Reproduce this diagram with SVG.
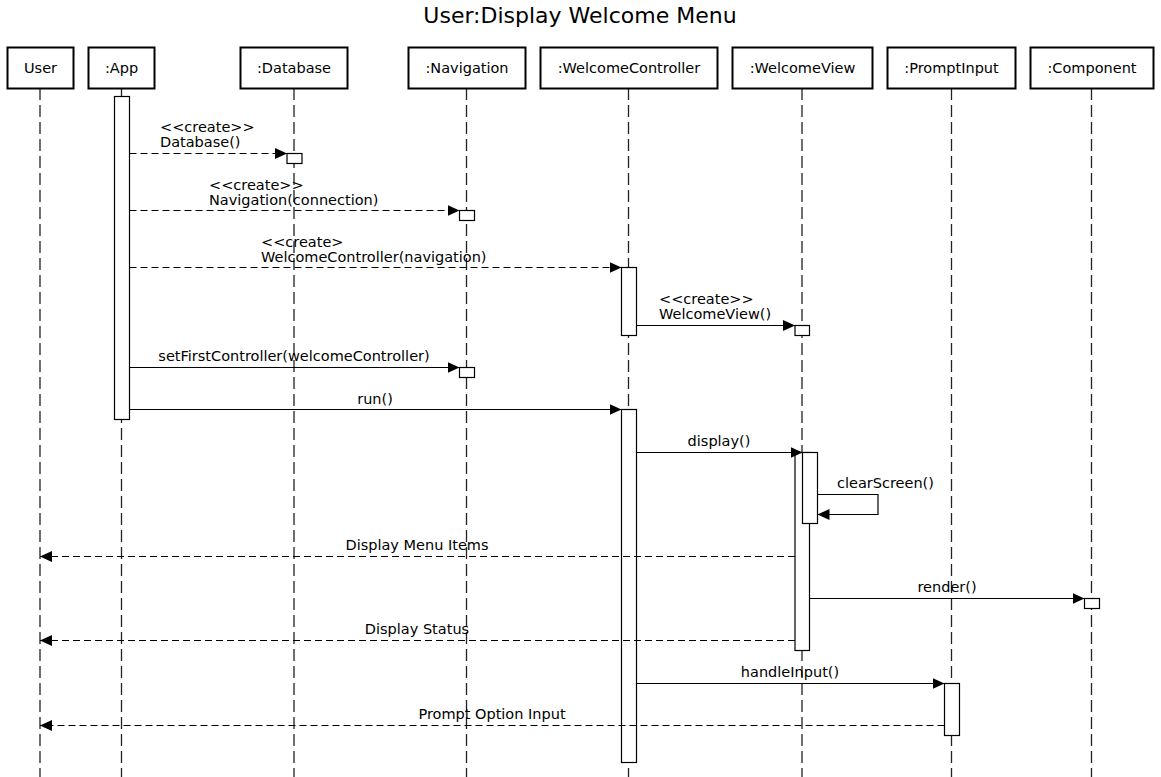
<svg xmlns="http://www.w3.org/2000/svg" width="1161" height="777" viewBox="0 0 1161 777">
<style>
text{font-family:"DejaVu Sans",sans-serif;font-size:14.5px;fill:#000}
.title{font-size:22px}
.head rect{fill:#fff;stroke:#000;stroke-width:2}
.life{stroke:#222;stroke-width:1.3;stroke-dasharray:12,5;fill:none}
.act{fill:#fff;stroke:#000;stroke-width:1.2}
.msg{stroke:#000;stroke-width:1.2;fill:none;marker-end:url(#arr)}
.dash{stroke-dasharray:7,4}
.c{text-anchor:middle}
</style>
<defs>
<marker id="arr" markerUnits="userSpaceOnUse" markerWidth="14" markerHeight="12" refX="12" refY="5.5" orient="auto">
<path d="M0,0 L12,5.5 L0,11 Z" fill="#000"/>
</marker>
</defs>
<rect width="1161" height="777" fill="#fff"/>
<text class="title c" x="580" y="23">User:Display Welcome Menu</text>

<g id="lifelines">
<line class="life" x1="40" y1="88" x2="40" y2="777"/>
<line class="life" x1="121.5" y1="88" x2="121.5" y2="777"/>
<line class="life" x1="294" y1="88" x2="294" y2="777"/>
<line class="life" x1="466.5" y1="88" x2="466.5" y2="777"/>
<line class="life" x1="628.5" y1="88" x2="628.5" y2="777"/>
<line class="life" x1="802" y1="88" x2="802" y2="777"/>
<line class="life" x1="951.5" y1="88" x2="951.5" y2="777"/>
<line class="life" x1="1091.5" y1="88" x2="1091.5" y2="777"/>
</g>

<g id="user" class="head"><rect x="7.5" y="47.5" width="66" height="41"/><text class="c" x="40.5" y="73">User</text></g>
<g id="app" class="head"><rect x="88.5" y="47.5" width="66" height="41"/><text class="c" x="121.5" y="73">:App</text>
<rect class="act" x="114.5" y="96.5" width="15" height="323" style="stroke-width:1.2"/></g>
<g id="database" class="head"><rect x="240.5" y="47.5" width="107" height="41"/><text class="c" x="294" y="73">:Database</text>
<rect class="act" x="287" y="153.5" width="15" height="10" style="stroke-width:1.2"/></g>
<g id="navigation" class="head"><rect x="408.5" y="47.5" width="117" height="41"/><text class="c" x="467" y="73">:Navigation</text>
<rect class="act" x="459.5" y="210.5" width="15" height="10" style="stroke-width:1.2"/>
<rect class="act" x="459.5" y="367.5" width="15" height="10" style="stroke-width:1.2"/></g>
<g id="welcomecontroller" class="head"><rect x="540.5" y="47.5" width="177" height="41"/><text class="c" x="629" y="73">:WelcomeController</text>
<rect class="act" x="621.5" y="267.5" width="15" height="68" style="stroke-width:1.2"/>
<rect class="act" x="621.5" y="409.5" width="15" height="353" style="stroke-width:1.2"/></g>
<g id="welcomeview" class="head"><rect x="732.5" y="47.5" width="140" height="41"/><text class="c" x="802.5" y="73">:WelcomeView</text>
<rect class="act" x="795" y="325.5" width="14.5" height="10" style="stroke-width:1.2"/>
<rect class="act" x="795" y="452.5" width="14.5" height="198" style="stroke-width:1.2"/>
<rect class="act" x="802.5" y="452.5" width="15" height="71" style="stroke-width:1.2"/></g>
<g id="promptinput" class="head"><rect x="887.5" y="47.5" width="128" height="41"/><text class="c" x="951.5" y="73">:PromptInput</text>
<rect class="act" x="944.5" y="683.5" width="15" height="52" style="stroke-width:1.2"/></g>
<g id="component" class="head"><rect x="1030.5" y="47.5" width="123" height="41"/><text class="c" x="1092" y="73">:Component</text>
<rect class="act" x="1084.5" y="598.5" width="15" height="10" style="stroke-width:1.2"/></g>

<g id="connectors">
<line class="msg dash" x1="129.5" y1="153.5" x2="287" y2="153.5"/>
<line class="msg dash" x1="129.5" y1="210.5" x2="459.5" y2="210.5"/>
<line class="msg dash" x1="129.5" y1="267.5" x2="621.5" y2="267.5"/>
<line class="msg" x1="636.5" y1="325.5" x2="795" y2="325.5"/>
<line class="msg" x1="129.5" y1="367.5" x2="459.5" y2="367.5"/>
<line class="msg" x1="129.5" y1="409.5" x2="621.5" y2="409.5"/>
<line class="msg" x1="636.5" y1="452.5" x2="802.5" y2="452.5"/>
<polyline class="msg" points="817.5,494.5 878,494.5 878,514.5 817.5,514.5"/>
<line class="msg dash" x1="795" y1="556.5" x2="40" y2="556.5"/>
<line class="msg" x1="809.5" y1="598.5" x2="1084.5" y2="598.5"/>
<line class="msg dash" x1="795" y1="640.5" x2="40" y2="640.5"/>
<line class="msg" x1="636.5" y1="683.5" x2="944.5" y2="683.5"/>
<line class="msg dash" x1="944.5" y1="725.5" x2="40" y2="725.5"/>
</g>

<g id="labels">
<text x="160" y="132">&lt;&lt;create&gt;&gt;</text>
<text x="160" y="147">Database()</text>
<text x="209" y="190">&lt;&lt;create&gt;&gt;</text>
<text x="209" y="205">Navigation(connection)</text>
<text x="261" y="247">&lt;&lt;create&gt;</text>
<text x="261" y="262">WelcomeController(navigation)</text>
<text x="659" y="304">&lt;&lt;create&gt;&gt;</text>
<text x="659" y="319">WelcomeView()</text>
<text class="c" x="294" y="361">setFirstController(welcomeController)</text>
<text class="c" x="375" y="404">run()</text>
<text class="c" x="719" y="446">display()</text>
<text x="837" y="488">clearScreen()</text>
<text class="c" x="417" y="550">Display Menu Items</text>
<text class="c" x="947" y="592">render()</text>
<text class="c" x="417" y="634">Display Status</text>
<text class="c" x="790" y="677">handleInput()</text>
<text class="c" x="492" y="719">Prompt Option Input</text>
</g>
</svg>
